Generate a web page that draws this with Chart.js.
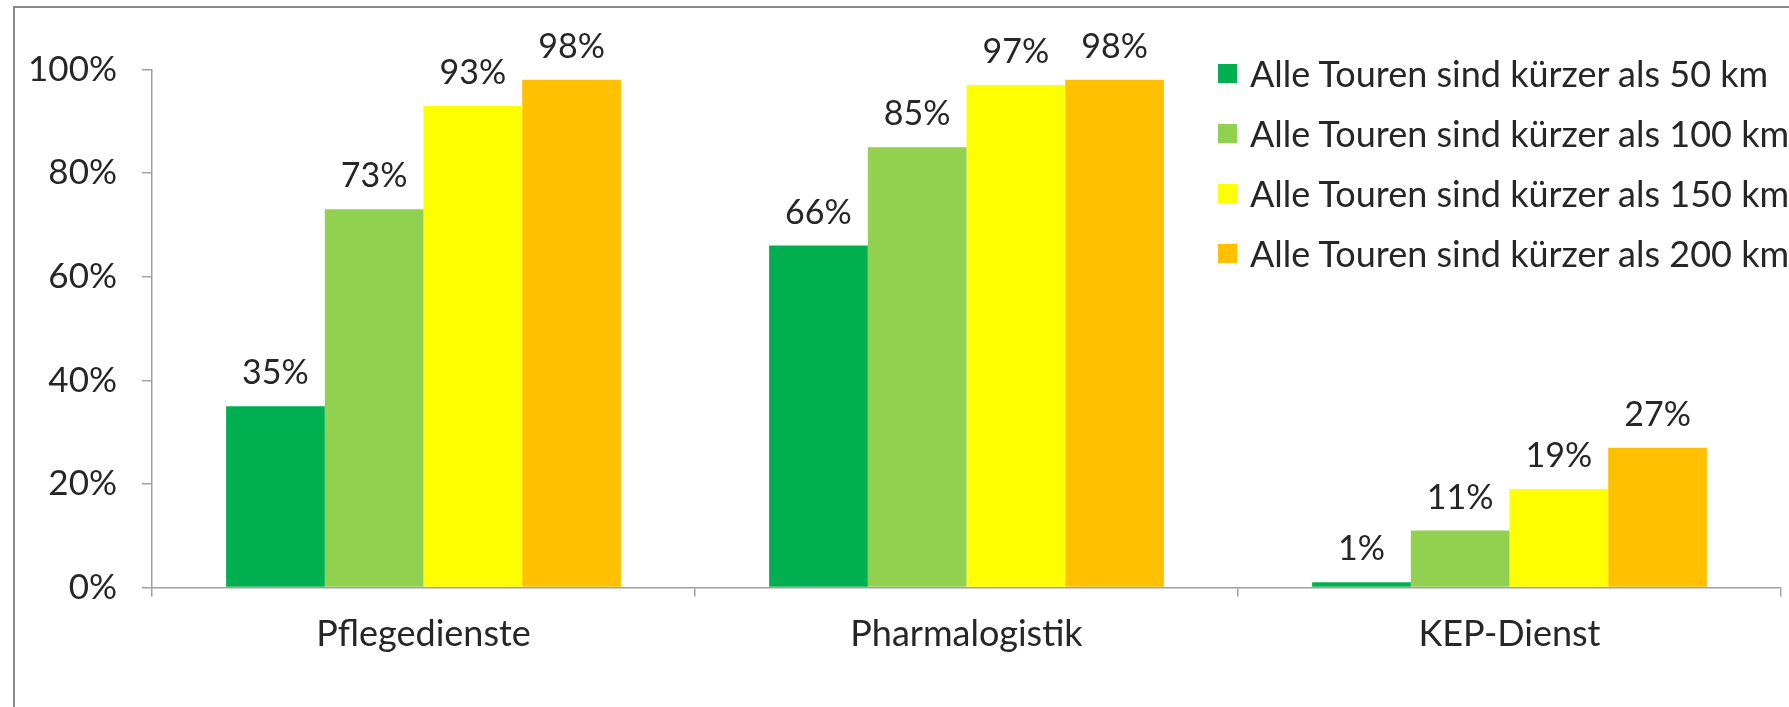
<!DOCTYPE html>
<html>
<head>
<meta charset="utf-8">
<script src="https://cdn.jsdelivr.net/npm/chart.js@4.4.1/dist/chart.umd.min.js"></script>
<style>
  html, body { margin: 0; padding: 0; background: #fff; overflow: hidden; }
  #wrap { position: relative; width: 1789px; height: 707px; }
  #frame { position: absolute; left: 13px; top: 6px; width: 1900px; height: 800px;
           border-left: 2px solid #8a8a8a; border-top: 2px solid #8a8a8a; }
  #c { position: absolute; left: 0; top: 0; }
  #legend { position: absolute; left: 1218px; top: 43px; font-family: Lato, sans-serif;
            font-size: 36px; color: #262626; white-space: nowrap; }
  .row { height: 60px; display: flex; align-items: center; }
  .box { width: 19px; height: 19px; margin-right: 13px; flex: none; }
</style>
</head>
<body>
<div id="wrap">
  <div id="frame"></div>
  <canvas id="c" width="1789" height="707"></canvas>
  <div id="legend"></div>
</div>
<script>
const categories = ["Pflegedienste", "Pharmalogistik", "KEP-Dienst"];
const seriesNames = [
  "Alle Touren sind kürzer als 50 km",
  "Alle Touren sind kürzer als 100 km",
  "Alle Touren sind kürzer als 150 km",
  "Alle Touren sind kürzer als 200 km"
];
const under50 = [35, 66, 1];
const under100 = [73, 85, 11];
const under150 = [93, 97, 19];
const under200 = [98, 98, 27];
const seriesColors = ["#00b050", "#92d050", "#ffff00", "#ffc000"];
const yTicks = [0, 20, 40, 60, 80, 100];

const seriesValues = [under50, under100, under150, under200];
const textColor = "#262626";
const axisColor = "#a0a0a0";
const FONT = "Lato, sans-serif";

const dataLabels = {
  id: "dataLabels",
  afterDatasetsDraw(chart) {
    const ctx = chart.ctx;
    ctx.save();
    ctx.font = "34px " + FONT;
    ctx.fillStyle = textColor;
    ctx.textAlign = "center";
    ctx.textBaseline = "alphabetic";
    chart.data.datasets.forEach((ds, i) => {
      chart.getDatasetMeta(i).data.forEach((el, j) => {
        ctx.fillText(ds.data[j] + "%", el.x, el.y - 22);
      });
    });
    ctx.restore();
  }
};

new Chart(document.getElementById("c"), {
  type: "bar",
  data: {
    labels: categories,
    datasets: seriesNames.map((name, i) => ({
      label: name,
      data: seriesValues[i],
      backgroundColor: seriesColors[i],
      borderWidth: 0,
      categoryPercentage: 0.727,
      barPercentage: 1.0
    }))
  },
  options: {
    responsive: false,
    animation: false,
    devicePixelRatio: 1,
    layout: { padding: { left: 0, top: 69.5, right: 8, bottom: 0 } },
    plugins: { legend: { display: false }, tooltip: { enabled: false } },
    scales: {
      x: {
        offset: true,
        grid: { display: true, drawOnChartArea: false, offset: true, color: axisColor, tickLength: 9, lineWidth: 1.5 },
        border: { display: true, color: axisColor, width: 1.5 },
        ticks: { color: textColor, font: { family: FONT, size: 36 }, padding: 16, maxRotation: 0 },
        afterFit(scale) { scale.height = 119.5; scale.paddingLeft = 0; scale.paddingRight = 0; }
      },
      y: {
        min: 0, max: 100,
        afterBuildTicks(scale) { scale.ticks = yTicks.map(v => ({ value: v })); },
        grid: { display: true, drawOnChartArea: false, color: axisColor, tickLength: 10, lineWidth: 1.5 },
        border: { display: true, color: axisColor, width: 1.5 },
        ticks: { color: textColor, font: { family: FONT, size: 35 }, padding: 25, callback: v => v + "%" },
        afterFit(scale) { scale.width = 152; scale.paddingTop = 0; scale.paddingBottom = 0; }
      }
    }
  },
  plugins: [dataLabels]
});

const legend = document.getElementById("legend");
seriesNames.forEach((name, i) => {
  const row = document.createElement("div");
  row.className = "row";
  const box = document.createElement("span");
  box.className = "box";
  box.style.background = seriesColors[i];
  const txt = document.createElement("span");
  txt.textContent = name;
  row.appendChild(box);
  row.appendChild(txt);
  legend.appendChild(row);
});
</script>
</body>
</html>
